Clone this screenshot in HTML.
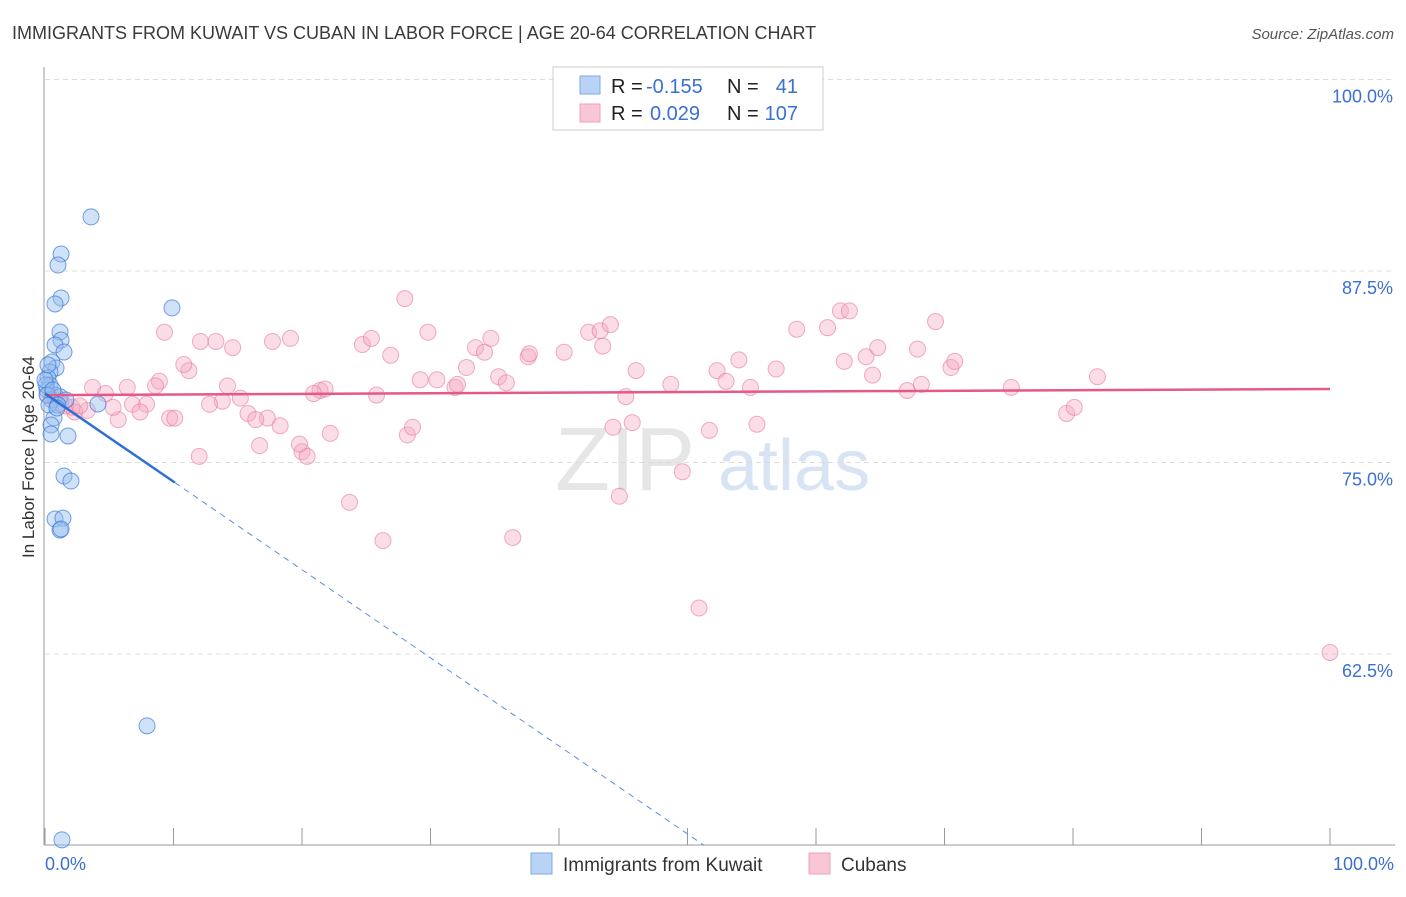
<!DOCTYPE html>
<html><head><meta charset="utf-8"><style>
body{margin:0;background:#fff;font-family:"Liberation Sans",sans-serif;}
svg text{font-family:"Liberation Sans",sans-serif;}
</style></head><body>
<svg id="chart" width="1406" height="892" viewBox="0 0 1406 892" xmlns="http://www.w3.org/2000/svg">
<text x="12" y="39" font-size="18" fill="#3a3a3a">IMMIGRANTS FROM KUWAIT VS CUBAN IN LABOR FORCE | AGE 20-64 CORRELATION CHART</text>
<text x="1394" y="39" font-size="15" fill="#555" font-style="italic" text-anchor="end">Source: ZipAtlas.com</text>
<text x="555" y="490" font-size="90" fill="#e6e6e6" font-family="Liberation Serif">ZIP</text>
<text x="718" y="490" font-size="72" fill="#d8e4f4">atlas</text>
<g id="grid"></g>
<g id="axes"></g>
<g id="points"></g>
<g id="trends"></g>
<text transform="translate(34,457) rotate(-90)" font-size="17" fill="#333" text-anchor="middle">In Labor Force | Age 20-64</text>
<text x="45" y="870" font-size="18" fill="#3b6fd1">0.0%</text>
<text x="1394" y="870" font-size="18" fill="#3b6fd1" text-anchor="end">100.0%</text>
<g>
<rect x="553" y="67" width="270" height="63" fill="#fff" stroke="#ccc"/>
<rect x="580" y="76" width="20" height="18" fill="#b9d3f5" stroke="#7fa9e6"/>
<rect x="580" y="104" width="20" height="18" fill="#f9c6d5" stroke="#eea0b8"/>
<text x="611" y="93" font-size="20" fill="#222">R = </text><text x="646" y="93" font-size="20" fill="#3b6fd1">-0.155</text>
<text x="727" y="93" font-size="20" fill="#222">N = </text><text x="798" y="93" font-size="20" fill="#3b6fd1" text-anchor="end">41</text>
<text x="611" y="120" font-size="20" fill="#222">R = </text><text x="650" y="120" font-size="20" fill="#3b6fd1">0.029</text>
<text x="727" y="120" font-size="20" fill="#222">N = </text><text x="798" y="120" font-size="20" fill="#3b6fd1" text-anchor="end">107</text>
</g>
<g>
<rect x="531" y="853" width="21" height="21" fill="#b9d3f5" stroke="#7fa9e6"/>
<text x="563" y="871" font-size="19" fill="#333">Immigrants from Kuwait</text>
<rect x="809" y="853" width="21" height="21" fill="#f9c6d5" stroke="#eea0b8"/>
<text x="841" y="871" font-size="19" fill="#333">Cubans</text>
</g>
</svg>
<script>
const yTicks=[100,87.5,75,62.5];
const yTickLabels=["100.0%","87.5%","75.0%","62.5%"];
const xTicks=[0,10,20,30,40,50,60,70,80,90,100];
const kuwaitX=[3.58,1.25,1.01,1.25,0.78,1.17,1.25,0.78,1.48,0.54,0.86,0.39,0.23,0.39,0.16,0.78,0.54,1.17,1.63,4.12,0.70,0.47,0.47,1.79,1.48,2.02,0.78,1.40,1.17,1.25,9.88,7.94,1.32,0.08,0.16,0.31,0,1.0,0.62,0.23,0.93];
const kuwaitY=[91.03,88.61,87.89,85.74,85.35,83.52,82.99,82.67,82.21,81.56,81.17,80.91,80.52,80.06,79.73,79.41,79.08,79.28,79.08,78.82,77.91,77.45,76.86,76.73,74.12,73.79,71.31,71.37,70.59,70.66,85.09,57.81,50.37,80.06,79.41,78.75,80.39,78.75,79.73,81.37,78.56];
const cubanX=[9.3,12.1,13.3,14.6,17.7,19.1,24.7,25.4,26.9,29.8,33.5,34.2,34.7,37.6,37.7,40.4,42.3,43.2,44.0,43.4,46.0,48.7,52.3,53.0,54.0,54.9,56.9,58.5,60.9,61.9,62.6,62.2,63.9,64.8,64.4,67.1,67.9,68.2,69.3,70.5,70.8,75.2,81.9,79.5,80.1,100.0,50.9,49.6,44.7,36.4,26.3,23.7,28.2,28.6,22.2,20.0,20.4,19.8,18.3,17.3,16.7,15.8,16.4,15.2,13.8,12.8,12.0,14.2,11.2,10.8,8.9,8.6,6.4,3.7,4.7,5.7,5.3,6.8,7.9,7.4,9.7,10.1,2.1,1.2,3.3,2.3,21.4,21.8,20.9,25.8,29.2,30.5,31.9,32.1,32.8,35.3,35.9,45.2,45.7,44.2,51.7,55.4,28.0,0.2,0.8,1.6,2.7];
const cubanY=[83.5,82.9,82.9,82.5,82.9,83.1,82.7,83.1,82.0,83.5,82.5,82.2,83.1,81.9,82.1,82.2,83.5,83.6,84.0,82.6,81.0,80.1,81.0,80.3,81.7,79.9,81.1,83.7,83.8,84.9,84.9,81.6,81.9,82.5,80.7,79.7,82.4,80.1,84.2,81.2,81.6,79.9,80.6,78.2,78.6,62.6,65.5,74.4,72.8,70.1,69.9,72.4,76.8,77.3,76.9,75.7,75.4,76.2,77.4,77.9,76.1,78.2,77.8,79.2,79.0,78.8,75.4,80.0,81.0,81.4,80.3,80.0,79.9,79.9,79.5,77.8,78.6,78.8,78.8,78.3,77.9,77.9,78.6,78.9,78.4,78.3,79.7,79.8,79.5,79.4,80.4,80.4,79.9,80.1,81.2,80.6,80.2,79.3,77.6,77.3,77.1,77.5,85.7,79.4,79.1,78.7,78.7];
const kuwaitTrend=[79.5,-0.575]; // intercept, slope
const cubanTrend=[79.4,0.004];
const X=v=>45+v*12.85;
const Y=v=>79.5+(100-v)*15.32;
const NS="http://www.w3.org/2000/svg";
function mk(tag,attrs,parent){const e=document.createElementNS(NS,tag);for(const k in attrs)e.setAttribute(k,attrs[k]);document.getElementById(parent).appendChild(e);return e;}
yTicks.forEach((t,i)=>{
 const l=mk('line',{x1:45,x2:1395,y1:Y(t),y2:Y(t),stroke:'#dcdcdc','stroke-dasharray':'5,4'},'grid');
 
 
 const tx=mk('text',{x:1393,y:Y(t)+23,'font-size':18,fill:'#3b6fd1','text-anchor':'end'},'grid');
 tx.textContent=yTickLabels[i];
 
 
});
const ya=mk('line',{x1:44,x2:44,y1:67,y2:845,stroke:'#999'},'axes');


const xa=mk('line',{x1:44,x2:1395,y1:845,y2:845,stroke:'#999'},'axes');


xTicks.forEach(t=>{
 const l=mk('line',{x1:X(t),x2:X(t),y1:828,y2:845,stroke:'#999'},'axes');
 
 
});
cubanX.forEach((v,i)=>{
 const c=mk('circle',{cx:X(v),cy:Y(cubanY[i]),r:8,fill:'rgba(246,170,195,0.4)',stroke:'rgba(232,120,155,0.6)','stroke-width':1},'points');
 
 
});
kuwaitX.forEach((v,i)=>{
 const c=mk('circle',{cx:X(v),cy:Y(kuwaitY[i]),r:8,fill:'rgba(150,190,240,0.45)',stroke:'rgba(60,120,215,0.7)','stroke-width':1},'points');
 
 
});
const ct=mk('line',{x1:X(0),y1:Y(cubanTrend[0]),x2:X(100),y2:Y(cubanTrend[0]+cubanTrend[1]*100),stroke:'#e4588a','stroke-width':2.5},'trends');


const kEnd=10.1;
const kt=mk('line',{x1:X(0),y1:Y(kuwaitTrend[0]),x2:X(kEnd),y2:Y(kuwaitTrend[0]+kuwaitTrend[1]*kEnd),stroke:'#2f6fd6','stroke-width':2.5},'trends');


const xBottom=(50-kuwaitTrend[0])/kuwaitTrend[1];
const kd=mk('line',{x1:X(kEnd),y1:Y(kuwaitTrend[0]+kuwaitTrend[1]*kEnd),x2:X(xBottom),y2:Y(50),stroke:'#5a8ee0','stroke-width':1,'stroke-dasharray':'6,5'},'trends');


</script>
</body></html>
